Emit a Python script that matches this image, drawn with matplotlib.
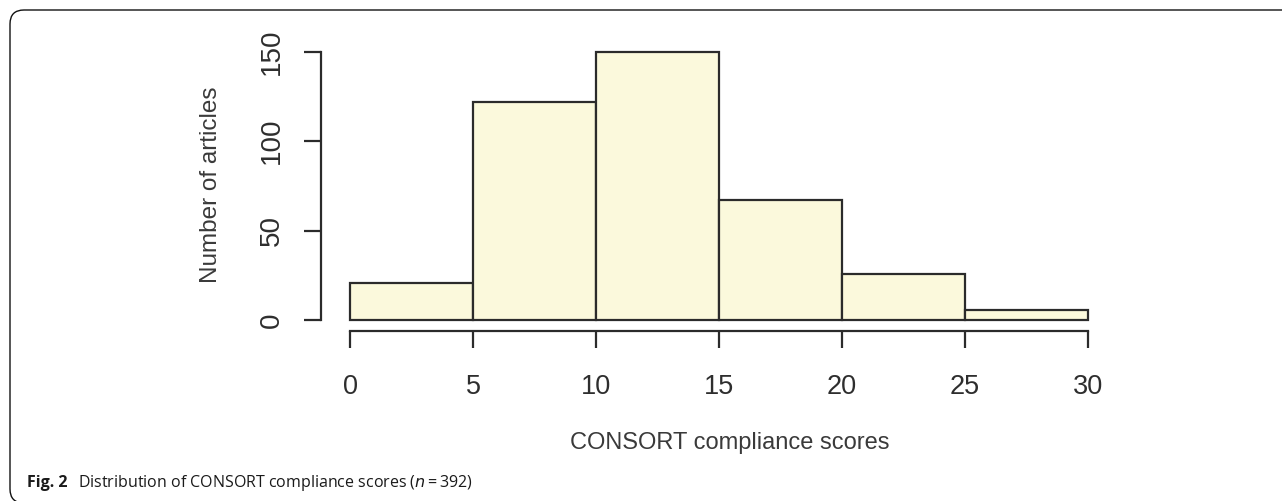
import matplotlib
matplotlib.use("Agg")
import matplotlib.pyplot as plt
from matplotlib.patches import FancyBboxPatch
from matplotlib.transforms import IdentityTransform

# histogram of CONSORT scores, bin edges and counts
bin_edges = [0, 5, 10, 15, 20, 25, 30]
counts = [21, 122, 150, 67, 26, 6]
x_ticks = [0, 5, 10, 15, 20, 25, 30]
y_ticks = [0, 50, 100, 150]

W, H = 1282, 501
fig = plt.figure(figsize=(W / 100, H / 100), dpi=100)

# axes box follows R's 4% padding around the data range
ax = fig.add_axes([320.5 / W, 1 - 331 / H, 797 / W, 290 / H])
ax.set_xlim(-1.2, 31.2)
ax.set_ylim(-6, 156)

lefts = bin_edges[:-1]
widths = [b - a for a, b in zip(bin_edges[:-1], bin_edges[1:])]
ax.bar(lefts, counts, width=widths, align="edge", color="#fbf9dc",
       edgecolor="#2b2b2b", linewidth=1.6)

for s in ["top", "right"]:
    ax.spines[s].set_visible(False)
ax.spines["left"].set_bounds(0, 150)
ax.spines["bottom"].set_bounds(0, 30)
for s in ["left", "bottom"]:
    ax.spines[s].set_linewidth(1.6)
    ax.spines[s].set_color("#2b2b2b")

tick_font = ["Liberation Sans"]
ax.set_xticks(x_ticks)
ax.set_xticklabels([str(v) for v in x_ticks], family=tick_font, fontsize=19.5,
                   color="#2e2e2e")
ax.set_yticks(y_ticks)
ax.set_yticklabels([str(v) for v in y_ticks], family=tick_font, fontsize=20,
                   color="#2e2e2e", rotation=90, va="center")
ax.tick_params(axis="both", length=12, width=1.6, color="#2b2b2b")
ax.tick_params(axis="x", pad=19)
ax.tick_params(axis="y", pad=14)

fig.text(730 / W, 1 - 443 / H, "CONSORT compliance scores",
         family=["Liberation Sans"], fontsize=17, color="#3a3a3a",
         ha="center", va="center")
fig.text(211 / W, 1 - 185 / H, "Number of articles",
         family=["Liberation Sans"], fontsize=17.5, color="#3a3a3a",
         ha="center", va="center", rotation=90)

# caption
cap_font = ["Open Sans", "DejaVu Sans"]
fig_lbl = fig.text(27 / W, 1 - 487 / H, "Fig. 2", family=cap_font, fontsize=11.5,
                   weight="bold", color="#1a1a1a", va="baseline")
r = fig.canvas.get_renderer()
x_end = fig_lbl.get_window_extent(r).x1
fig.text((x_end + 11) / W, 1 - 487 / H,
         "Distribution of CONSORT compliance scores ($\\it{n}$\u2009=\u2009392)",
         family=cap_font, fontsize=11.5, color="#1a1a1a", va="baseline")

# rounded frame, open to the right and bottom
frame = FancyBboxPatch((10, -2), 1400, 493, boxstyle="round,pad=0,rounding_size=14",
                       transform=IdentityTransform(), facecolor="none",
                       edgecolor="#111111", linewidth=1.0)
fig.add_artist(frame)

fig.savefig("out.png", dpi=100)
